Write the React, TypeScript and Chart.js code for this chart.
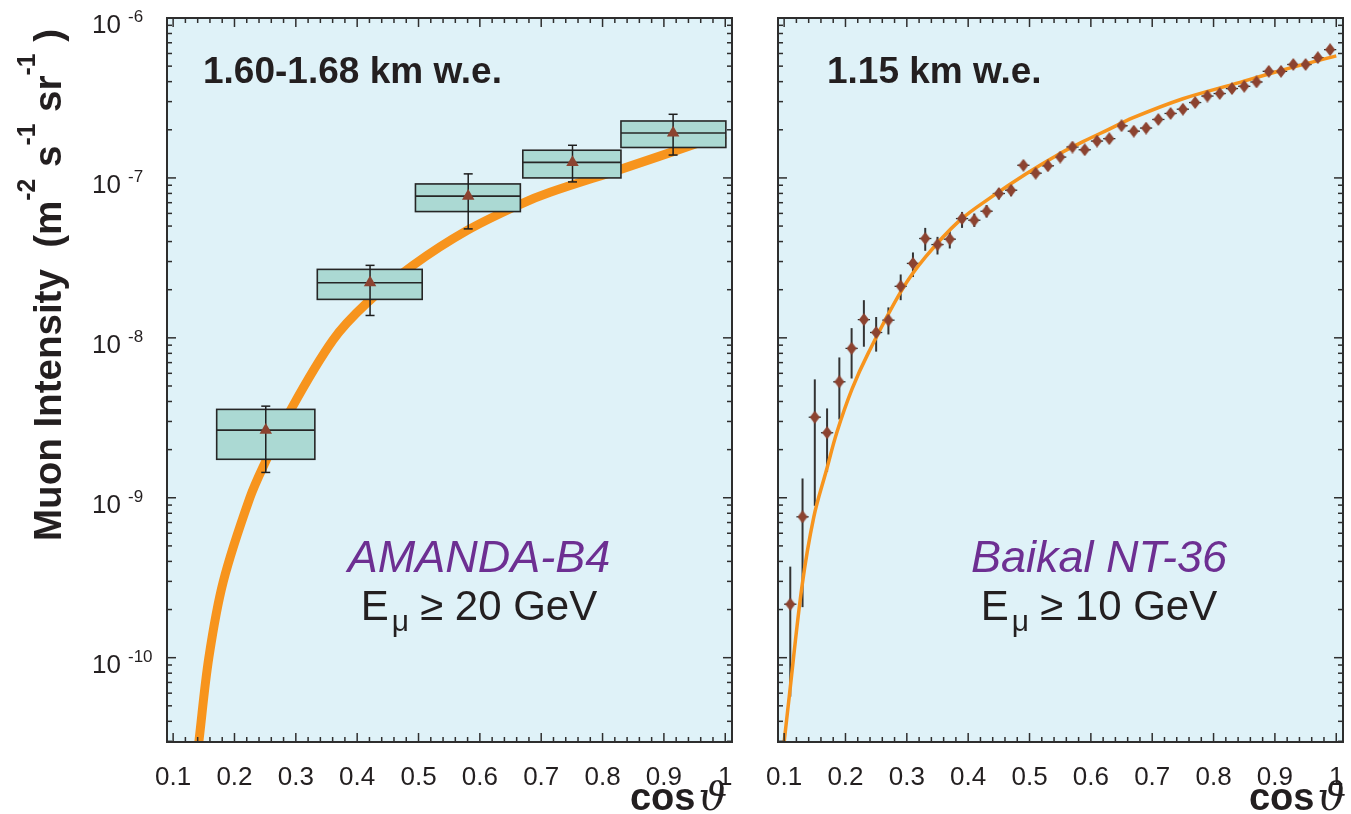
import React, { useEffect, useRef } from 'react';
import { Chart, registerables } from 'chart.js';

Chart.register(...registerables);

const FONT = '"Liberation Sans", Arial, Helvetica, sans-serif';
const SYMBOL_FONT = '"DejaVu Serif", "Liberation Serif", serif';

// ---- axes ----
const cosMin = 0.09;
const cosMax = 1.011;
const intensityMin = 2.97e-11;
const intensityMax = 1e-6;
const xTickValues = [0.1, 0.2, 0.3, 0.4, 0.5, 0.6, 0.7, 0.8, 0.9, 1.0];
const xTickLabels = ['0.1', '0.2', '0.3', '0.4', '0.5', '0.6', '0.7', '0.8', '0.9', '1'];
const yTickValues = [1e-6, 1e-7, 1e-8, 1e-9, 1e-10];
const yTickBase = '10';
const yTickExponents = ['-6', '-7', '-8', '-9', '-10'];
const yTitleParts = ['Muon Intensity  (m', '-2', ' s', '-1', ' sr', '-1', ' )'];
const yTitleSuper = [false, true, false, true, false, true, false];
const xTitleMain = 'cos';
const xTitleSymbol = 'ϑ';

// ---- panel texts ----
const leftDepth = '1.60-1.68 km w.e.';
const rightDepth = '1.15 km w.e.';
const leftExperiment = 'AMANDA-B4';
const rightExperiment = 'Baikal NT-36';
const leftThreshold = '20 GeV';
const rightThreshold = '10 GeV';

// ---- AMANDA-B4 (left) ----
const amandaBinLow = [0.171, 0.335, 0.495, 0.670, 0.830];
const amandaBinHigh = [0.331, 0.506, 0.666, 0.830, 1.001];
const amandaCos = [0.251, 0.421, 0.581, 0.751, 0.915];
const amandaIntensity = [2.65e-9, 2.21e-8, 7.69e-8, 1.25e-7, 1.91e-7];
const amandaBoxLow = [1.74e-9, 1.74e-8, 6.16e-8, 1.0e-7, 1.55e-7];
const amandaBoxHigh = [3.57e-9, 2.68e-8, 9.17e-8, 1.49e-7, 2.27e-7];
const amandaErrLow = [1.44e-9, 1.38e-8, 4.8e-8, 9.44e-8, 1.39e-7];
const amandaErrHigh = [3.74e-9, 2.84e-8, 1.06e-7, 1.6e-7, 2.5e-7];

const amandaFitCos = [0.1419, 0.1582, 0.1816, 0.2251, 0.2512, 0.2903, 0.3605, 0.4155, 0.4915, 0.5786, 0.6656, 0.7145, 0.8304, 0.9538, 1.0];
const amandaFitIntensity = [2.97e-11, 1.0e-10, 2.98e-10, 1.0e-9, 1.7e-9, 3.47e-9, 9.68e-9, 1.648e-8, 2.85e-8, 4.68e-8, 6.84e-8, 8.13e-8, 1.135e-7, 1.64e-7, 1.875e-7];

// ---- Baikal NT-36 (right) ----
const baikalCos = [0.11, 0.13, 0.15, 0.17, 0.19, 0.21, 0.23, 0.25, 0.27, 0.29, 0.31, 0.33, 0.35, 0.37, 0.39, 0.41, 0.43, 0.45, 0.47, 0.49, 0.51, 0.53, 0.55, 0.57, 0.59, 0.61, 0.63, 0.65, 0.67, 0.69, 0.71, 0.73, 0.75, 0.77, 0.79, 0.81, 0.83, 0.85, 0.87, 0.89, 0.91, 0.93, 0.95, 0.97, 0.99];
const baikalIntensity = [2.16e-10, 7.6e-10, 3.19e-9, 2.55e-9, 5.31e-9, 8.59e-9, 1.3e-8, 1.08e-8, 1.29e-8, 2.1e-8, 2.92e-8, 4.18e-8, 3.83e-8, 4.14e-8, 5.57e-8, 5.44e-8, 6.19e-8, 7.99e-8, 8.38e-8, 1.2e-7, 1.07e-7, 1.19e-7, 1.35e-7, 1.56e-7, 1.5e-7, 1.7e-7, 1.76e-7, 2.12e-7, 1.96e-7, 2.05e-7, 2.32e-7, 2.53e-7, 2.69e-7, 2.96e-7, 3.25e-7, 3.37e-7, 3.62e-7, 3.74e-7, 3.98e-7, 4.64e-7, 4.64e-7, 5.12e-7, 5.12e-7, 5.65e-7, 6.34e-7];
const baikalErrLow = [5.7e-11, 2.07e-10, 8.9e-10, 1.45e-9, 3.09e-9, 5.57e-9, 8.8e-9, 8.2e-9, 1.05e-8, 1.72e-8, 2.4e-8, 3.5e-8, 3.32e-8, 3.62e-8, 4.87e-8, 4.94e-8, 5.66e-8, 7.33e-8, 7.69e-8, 1.13e-7, 1.01e-7, 1.12e-7, 1.28e-7, 1.49e-7, 1.43e-7, 1.63e-7, 1.69e-7, 2.04e-7, 1.89e-7, 1.98e-7, 2.24e-7, 2.45e-7, 2.61e-7, 2.88e-7, 3.16e-7, 3.28e-7, 3.53e-7, 3.65e-7, 3.88e-7, 4.53e-7, 4.53e-7, 5.0e-7, 5.0e-7, 5.52e-7, 6.2e-7];
const baikalErrHigh = [3.71e-10, 1.32e-9, 5.5e-9, 3.62e-9, 7.54e-9, 1.15e-8, 1.72e-8, 1.35e-8, 1.55e-8, 2.49e-8, 3.42e-8, 4.87e-8, 4.28e-8, 4.65e-8, 6.13e-8, 5.99e-8, 6.76e-8, 8.59e-8, 9.0e-8, 1.27e-7, 1.13e-7, 1.26e-7, 1.42e-7, 1.63e-7, 1.57e-7, 1.77e-7, 1.83e-7, 2.2e-7, 2.03e-7, 2.12e-7, 2.4e-7, 2.61e-7, 2.77e-7, 3.04e-7, 3.34e-7, 3.46e-7, 3.71e-7, 3.83e-7, 4.08e-7, 4.75e-7, 4.75e-7, 5.24e-7, 5.24e-7, 5.78e-7, 6.48e-7];
const baikalBinHalfWidth = [0.01, 0.01, 0.01, 0.01, 0.01, 0.01, 0.01, 0.01, 0.01, 0.01, 0.01, 0.01, 0.01, 0.01, 0.01, 0.01, 0.01, 0.01, 0.01, 0.01, 0.01, 0.01, 0.01, 0.01, 0.01, 0.01, 0.01, 0.01, 0.01, 0.01, 0.01, 0.01, 0.01, 0.01, 0.01, 0.01, 0.01, 0.01, 0.01, 0.01, 0.01, 0.01, 0.01, 0.01, 0.01];

const baikalFitCos = [0.1, 0.1083, 0.129, 0.1484, 0.1688, 0.1861, 0.2106, 0.2379, 0.292, 0.3302, 0.385, 0.4394, 0.494, 0.5484, 0.5864, 0.63, 0.668, 0.75, 0.8315, 0.913, 1.0];
const baikalFitIntensity = [2.97e-11, 5.7e-11, 2.78e-10, 7.6e-10, 1.479e-9, 2.576e-9, 4.78e-9, 8.14e-9, 1.995e-8, 3.194e-8, 5.37e-8, 7.67e-8, 1.059e-7, 1.413e-7, 1.679e-7, 2.018e-7, 2.371e-7, 3.126e-7, 3.846e-7, 4.732e-7, 5.794e-7];

// ---- colours ----
const BG = '#dff2f8';
const ORANGE = '#f7941d';
const BROWN = '#8c4330';
const BOX_FILL = '#abd9d3';
const INK = '#231f20';
const AXIS = '#2e2e2e';
const PURPLE = '#6d2f92';

function drawBackground(chart: any) {
  const { ctx, chartArea: a } = chart;
  ctx.save();
  ctx.fillStyle = BG;
  ctx.fillRect(a.left, a.top, a.right - a.left, a.bottom - a.top);
  ctx.restore();
}

function tick(ctx: any, x1: number, y1: number, x2: number, y2: number) {
  ctx.beginPath();
  ctx.moveTo(x1, y1);
  ctx.lineTo(x2, y2);
  ctx.stroke();
}

function drawFrame(chart: any) {
  const { ctx, chartArea: a, scales } = chart;
  const x = scales.x;
  const y = scales.y;
  ctx.save();
  ctx.strokeStyle = AXIS;
  ctx.lineWidth = 1.5;
  for (let i = 0; i <= 45; i++) {
    const v = 0.1 + 0.02 * i;
    const len = i % 5 === 0 ? 9 : 5;
    const px = x.getPixelForValue(v);
    tick(ctx, px, a.bottom, px, a.bottom - len);
    tick(ctx, px, a.top, px, a.top + len);
  }
  for (let e = -11; e <= -6; e++) {
    for (let k = 1; k <= 9; k++) {
      const v = k * Math.pow(10, e);
      if (v < intensityMin * 0.999 || v > intensityMax * 1.001) continue;
      const len = k === 1 ? 9 : 5;
      const py = y.getPixelForValue(v);
      tick(ctx, a.left, py, a.left + len, py);
      tick(ctx, a.right, py, a.right - len, py);
    }
  }
  ctx.lineWidth = 2;
  ctx.strokeRect(a.left, a.top, a.right - a.left, a.bottom - a.top);
  ctx.restore();
}

function drawXLabels(chart: any, titleRight: number) {
  const { ctx, chartArea: a, scales } = chart;
  const x = scales.x;
  ctx.save();
  ctx.fillStyle = INK;
  ctx.font = `26px ${FONT}`;
  ctx.textAlign = 'center';
  ctx.textBaseline = 'alphabetic';
  xTickValues.forEach((v, i) => ctx.fillText(xTickLabels[i], x.getPixelForValue(v), a.bottom + 43));
  // axis title
  ctx.textAlign = 'left';
  ctx.font = `italic 40px ${SYMBOL_FONT}`;
  const wSym = ctx.measureText(xTitleSymbol).width;
  ctx.font = `bold 38px ${FONT}`;
  const wMain = ctx.measureText(xTitleMain).width;
  const start = titleRight - wSym - 3 - wMain;
  ctx.fillText(xTitleMain, start, 810);
  ctx.font = `italic 40px ${SYMBOL_FONT}`;
  ctx.fillText(xTitleSymbol, start + wMain + 3, 810);
  ctx.restore();
}

function drawYLabels(chart: any) {
  const { ctx, scales } = chart;
  const y = scales.y;
  ctx.save();
  ctx.fillStyle = INK;
  ctx.textAlign = 'left';
  ctx.textBaseline = 'alphabetic';
  yTickValues.forEach((v, i) => {
    const py = y.getPixelForValue(v);
    ctx.font = `26px ${FONT}`;
    ctx.fillText(yTickBase, 92, py + 15);
    ctx.font = `17px ${FONT}`;
    ctx.fillText(yTickExponents[i], 128, py + 4);
  });
  // rotated title
  let total = 0;
  yTitleParts.forEach((t, i) => {
    const sup = yTitleSuper[i];
    ctx.font = sup ? `bold 25px ${FONT}` : `bold 39px ${FONT}`;
    total += ctx.measureText(t).width + (sup ? 1 : 0);
  });
  const squeeze = Math.min(1, 512 / total);
  ctx.translate(61, 541);
  ctx.rotate(-Math.PI / 2);
  ctx.scale(squeeze, 1);
  let pos = 0;
  yTitleParts.forEach((t, i) => {
    const sup = yTitleSuper[i];
    ctx.font = sup ? `bold 25px ${FONT}` : `bold 39px ${FONT}`;
    ctx.fillText(t, pos, sup ? -26 : 0);
    pos += ctx.measureText(t).width + (sup ? 1 : 0);
  });
  ctx.restore();
}

function drawPanelTexts(ctx: any, depth: string, depthX: number, exp: string, cx: number, threshold: string) {
  ctx.save();
  ctx.fillStyle = INK;
  ctx.textBaseline = 'alphabetic';
  ctx.textAlign = 'left';
  ctx.font = `bold 37px ${FONT}`;
  ctx.fillText(depth, depthX, 83);
  ctx.fillStyle = PURPLE;
  ctx.textAlign = 'center';
  ctx.font = `italic 45px ${FONT}`;
  ctx.fillText(exp, cx, 572);
  // E_mu >= threshold
  ctx.fillStyle = INK;
  ctx.textAlign = 'left';
  const big = `42px ${FONT}`;
  const small = `30px ${FONT}`;
  const parts = [
    { t: 'E', f: big, dy: 0, gap: 3 },
    { t: 'μ', f: small, dy: 11, gap: 11 },
    { t: '≥ ' + threshold, f: big, dy: 0, gap: 0 },
  ];
  let total = 0;
  parts.forEach((p) => { ctx.font = p.f; total += ctx.measureText(p.t).width + p.gap; });
  let pos = cx - total / 2;
  parts.forEach((p) => {
    ctx.font = p.f;
    ctx.fillText(p.t, pos, 620 + p.dy);
    pos += ctx.measureText(p.t).width + p.gap;
  });
  ctx.restore();
}

export default function App() {
  const leftRef = useRef<HTMLCanvasElement>(null);
  const rightRef = useRef<HTMLCanvasElement>(null);

  useEffect(() => {
    const diamond = document.createElement('canvas');
    diamond.width = 10;
    diamond.height = 13;
    const dctx = diamond.getContext('2d')!;
    dctx.fillStyle = BROWN;
    dctx.beginPath();
    dctx.moveTo(5, 0);
    dctx.lineTo(10, 6.5);
    dctx.lineTo(5, 13);
    dctx.lineTo(0, 6.5);
    dctx.closePath();
    dctx.fill();

    const scales: any = {
      x: { type: 'linear', min: cosMin, max: cosMax, display: false, bounds: 'data' },
      y: { type: 'logarithmic', min: intensityMin, max: intensityMax, display: false, bounds: 'data' },
    };
    const basePlugins: any = { legend: { display: false }, tooltip: { enabled: false }, title: { display: false } };

    const leftPlugin = {
      id: 'amandaPanel',
      beforeDatasetsDraw(chart: any) { drawBackground(chart); },
      afterDatasetDraw(chart: any, args: any) {
        if (args.index !== 0) return;
        const { ctx, scales: s } = chart;
        ctx.save();
        amandaCos.forEach((c, i) => {
          const x0 = s.x.getPixelForValue(amandaBinLow[i]);
          const x1 = s.x.getPixelForValue(amandaBinHigh[i]);
          const yTop = s.y.getPixelForValue(amandaBoxHigh[i]);
          const yBot = s.y.getPixelForValue(amandaBoxLow[i]);
          const yMid = s.y.getPixelForValue(amandaIntensity[i]);
          ctx.fillStyle = BOX_FILL;
          ctx.fillRect(x0, yTop, x1 - x0, yBot - yTop);
          ctx.strokeStyle = '#262626';
          ctx.lineWidth = 1.6;
          ctx.strokeRect(x0, yTop, x1 - x0, yBot - yTop);
          tick(ctx, x0, yMid, x1, yMid);
          const px = s.x.getPixelForValue(c);
          const e0 = s.y.getPixelForValue(amandaErrLow[i]);
          const e1 = s.y.getPixelForValue(amandaErrHigh[i]);
          ctx.lineWidth = 1.5;
          ctx.strokeStyle = '#1e1e1e';
          tick(ctx, px, e0, px, e1);
          tick(ctx, px - 4.5, e0, px + 4.5, e0);
          tick(ctx, px - 4.5, e1, px + 4.5, e1);
        });
        ctx.restore();
      },
      afterDraw(chart: any) {
        drawFrame(chart);
        drawXLabels(chart, 727);
        drawYLabels(chart);
        drawPanelTexts(chart.ctx, leftDepth, 203, leftExperiment, 479, leftThreshold);
      },
    };

    const rightPlugin = {
      id: 'baikalPanel',
      beforeDatasetsDraw(chart: any) {
        drawBackground(chart);
        const { ctx, scales: s } = chart;
        ctx.save();
        ctx.strokeStyle = '#333333';
        baikalCos.forEach((c, i) => {
          const px = s.x.getPixelForValue(c);
          const py = s.y.getPixelForValue(baikalIntensity[i]);
          ctx.lineWidth = 2;
          tick(ctx, px, s.y.getPixelForValue(baikalErrLow[i]), px, s.y.getPixelForValue(baikalErrHigh[i]));
          ctx.lineWidth = 1.3;
          tick(ctx, s.x.getPixelForValue(c - baikalBinHalfWidth[i]), py, s.x.getPixelForValue(c + baikalBinHalfWidth[i]), py);
        });
        ctx.restore();
      },
      afterDraw(chart: any) {
        drawFrame(chart);
        drawXLabels(chart, 1346 - 760);
        drawPanelTexts(chart.ctx, rightDepth, 827 - 760, rightExperiment, 1099 - 760, rightThreshold);
      },
    };

    const left = new Chart(leftRef.current!, {
      type: 'scatter',
      data: {
        datasets: [
          {
            type: 'line',
            data: amandaFitCos.map((c, i) => ({ x: c, y: amandaFitIntensity[i] })),
            borderColor: ORANGE,
            borderWidth: 9,
            pointRadius: 0,
            fill: false,
            tension: 0.35,
            clip: 0,
            order: 2,
          } as any,
          {
            type: 'scatter',
            data: amandaCos.map((c, i) => ({ x: c, y: amandaIntensity[i] })),
            pointStyle: 'triangle',
            pointRadius: 7.2,
            backgroundColor: BROWN,
            borderColor: BROWN,
            borderWidth: 0,
            clip: false,
            order: 1,
          } as any,
        ],
      },
      options: {
        animation: false,
        responsive: false,
        devicePixelRatio: 1,
        events: [],
        layout: { padding: { left: 167, top: 18, right: 28, bottom: 72 } },
        scales,
        plugins: basePlugins,
      } as any,
      plugins: [leftPlugin],
    });

    const right = new Chart(rightRef.current!, {
      type: 'scatter',
      data: {
        datasets: [
          {
            type: 'line',
            data: baikalFitCos.map((c, i) => ({ x: c, y: baikalFitIntensity[i] })),
            borderColor: ORANGE,
            borderWidth: 3.5,
            pointRadius: 0,
            fill: false,
            tension: 0.35,
            clip: 0,
            order: 2,
          } as any,
          {
            type: 'scatter',
            data: baikalCos.map((c, i) => ({ x: c, y: baikalIntensity[i] })),
            pointStyle: diamond,
            pointRadius: 6,
            clip: false,
            order: 1,
          } as any,
        ],
      },
      options: {
        animation: false,
        responsive: false,
        devicePixelRatio: 1,
        events: [],
        layout: { padding: { left: 18, top: 18, right: 8, bottom: 72 } },
        scales,
        plugins: basePlugins,
      } as any,
      plugins: [rightPlugin],
    });

    return () => {
      left.destroy();
      right.destroy();
    };
  }, []);

  return (
    <div style={{ position: 'absolute', left: 0, top: 0, width: 1351, height: 814, background: '#ffffff' }}>
      <canvas ref={leftRef} width={760} height={814} style={{ position: 'absolute', left: 0, top: 0, width: 760, height: 814 }} />
      <canvas ref={rightRef} width={591} height={814} style={{ position: 'absolute', left: 760, top: 0, width: 591, height: 814 }} />
    </div>
  );
}
